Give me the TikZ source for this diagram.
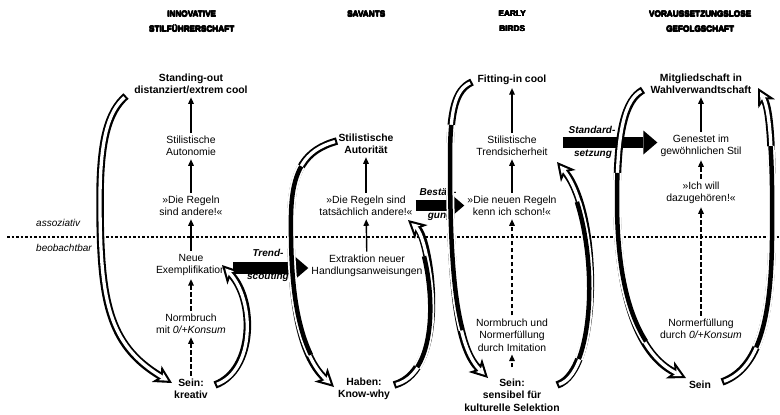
\documentclass[tikz,border=0pt]{standalone}
\usepackage{fontspec}
\setmainfont{Liberation Sans}
\usetikzlibrary{arrows.meta,decorations.pathmorphing}

\newcommand\hvy[1]{\leavevmode\rlap{\kern0.5pt #1}\rlap{\raisebox{0.4pt}{#1}}\rlap{\kern0.5pt\raisebox{0.4pt}{#1}}\rlap{\kern0.25pt\raisebox{0.2pt}{#1}}#1}

\tikzset{
  txt/.style={align=center, font=\fontsize{10.4}{12.5}\selectfont, inner sep=3pt},
  btxt/.style={align=center, font=\fontsize{10.4}{12.5}\selectfont\bfseries, inner sep=3pt},
  hdr/.style={align=center, font=\fontsize{8.2}{15}\selectfont\bfseries, inner sep=0pt},
  lbl/.style={font=\fontsize{10}{12}\selectfont\bfseries\itshape, inner sep=0pt},
  sidetxt/.style={font=\fontsize{10}{12}\selectfont\itshape, anchor=west, inner sep=0pt},
  upar/.style={line width=1.4pt, -{Triangle[length=6.5pt,width=5.5pt]}},
  dupar/.style={upar, dash pattern=on 4.5pt off 2.5pt},
  blockar/.style={line width=11.5pt, -{Triangle[length=14pt,width=24pt,line width=0pt]}},
  hout/.style={line width=7.5pt, -{Stealth[length=18pt,width=19pt,inset=5pt,line width=0pt]}},
  hin/.style={line width=3.3pt, white, shorten <=2.1pt, shorten >=4.5pt,
     -{Stealth[length=8.5pt,width=8.9pt,inset=2.3pt,line width=0pt]}},
  midpart/.style 2 args={decorate, decoration={curveto, pre=moveto, pre length=#1, post=moveto, post length=#2}},
}

\newcommand\pAa{(A1t) .. controls (108,112) and (100,140) .. (100,200) .. controls (100,300) and (108,345) .. (A1h)}
\newcommand\pAb{(A2t) .. controls (255,370) and (255,300) .. (A2h)}
\newcommand\pBa{(B1t) .. controls (305,150) and (292,170) .. (291,215) .. controls (290,300) and (300,355) .. (B1h)}
\newcommand\pBb{(B2t) .. controls (450,370) and (430,240) .. (B2h)}
\newcommand\pCa{(C1t) .. controls (455,90) and (450,110) .. (450,160) .. controls (450,300) and (460,350) .. (C1h)}
\newcommand\pCb{(C2t) .. controls (600,372) and (600,215) .. (C2h)}
\newcommand\pDa{(D1t) .. controls (625,100) and (617,130) .. (617,200) .. controls (617,300) and (640,355) .. (D1h)}
\newcommand\pDb{(D2t) .. controls (755,370) and (771,330) .. (772,240) .. controls (773,150) and (770,110) .. (D2h)}

\begin{document}
\begin{tikzpicture}[x=1pt,y=-1pt]
\useasboundingbox (0,0) rectangle (780,415);

% dotted separator
\coordinate (dl) at (7,237);
\coordinate (dr) at (780,237);
\draw[line width=2.6pt, dash pattern=on 2.6pt off 1.9pt] (dl) -- (dr);

% headers
\node[hdr] (h1) at (191.5,21.5) {\hvy{INNOVATIVE}\\\hvy{STILFÜHRERSCHAFT}};
\node[hdr] (h2) at (366,14) {\hvy{SAVANTS}};
\node[hdr] (h3) at (512,21.5) {\hvy{EARLY}\\\hvy{BIRDS}};
\node[hdr] (h4) at (700,21.5) {\hvy{VORAUSSETZUNGSLOSE}\\\hvy{GEFOLGSCHAFT}};

\node[sidetxt] (as) at (36,223) {assoziativ};
\node[sidetxt] (be) at (36,248) {beobachtbar};

% column 1
\node[btxt] (a1) at (191,84) {Standing-out\\distanziert/extrem cool};
\node[txt] (a2) at (191,146) {Stilistische\\Autonomie};
\node[txt] (a3) at (191,206) {»Die Regeln\\sind andere!«};
\node[txt] (a4) at (191,265) {Neue\\Exemplifikation};
\node[txt] (a5) at (191,324) {Normbruch\\mit \textit{0/+Konsum}};
\node[btxt] (a6) at (191,389) {Sein:\\kreativ};

% column 2
\node[btxt] (b1) at (366,144) {Stilistische\\Autorität};
\node[txt] (b2) at (366,206) {»Die Regeln sind\\tatsächlich andere!«};
\node[txt] (b3) at (367,266) {Extraktion neuer\\Handlungsanweisungen};
\node[btxt] (b4) at (364,389) {Haben:\\Know-why};

% column 3
\node[btxt] (c1) at (512,80) {Fitting-in cool};
\node[txt] (c2) at (512,146) {Stilistische\\Trendsicherheit};
\node[txt] (c3) at (512,206) {»Die neuen Regeln\\kenn ich schon!«};
\node[txt] (c4) at (512,335) {Normbruch und\\Normerfüllung\\durch Imitation};
\node[btxt] (c5) at (512,395) {Sein:\\sensibel für\\kulturelle Selektion};

% column 4
\node[btxt] (d1) at (701,84) {Mitgliedschaft in\\Wahlverwandtschaft};
\node[txt] (d2) at (701,146) {Genestet im\\gewöhnlichen Stil};
\node[txt] (d3) at (701,193) {»Ich will\\dazugehören!«};
\node[txt] (d4) at (701,329) {Normerfüllung\\durch \textit{0/+Konsum}};
\node[btxt] (d5) at (700,385) {Sein};

% thin arrows
\draw[upar] (a2) -- (a1);
\draw[upar] (a3) -- (a2);
\draw[upar] (a4) -- (a3);
\draw[dupar] (a5) -- (a4);
\draw[dupar] (a6) -- (a5);
\draw[upar] (b2) -- (b1);
\draw[upar] (b3) -- (b2);
\draw[upar] (c2) -- (c1);
\draw[upar] (c3) -- (c2);
\draw[dupar] (c4) -- (c3);
\draw[dupar, shorten <=8pt] (c5) -- (c4);
\draw[upar] (d2) -- (d1);
\draw[dupar] (d3) -- (d2);
\draw[dupar] (d4) -- (d3);

% block arrows
\draw[blockar, shorten <=4pt] ([yshift=-3pt]a4.east) -- ([yshift=-2pt]b3.west);
\draw[blockar] ([yshift=0.5pt]b2.east) -- ([yshift=0.5pt]c3.west);
\draw[blockar, shorten <=12pt] ([yshift=3.5pt]c2.east) -- ([yshift=3.5pt]d2.west);
\node[lbl] (t1) at (268,253) {Trend-};
\node[lbl] (t2) at (268,277) {scouting};
\node[lbl] (s1) at (438,192) {Bestäti-};
\node[lbl] (s2) at (440,217) {gung};
\node[lbl] (u1) at (592,130) {Standard-};
\node[lbl] (u2) at (593,154) {setzung};

% curved hollow arrows: end points
\coordinate (A1t) at (126,96);  \coordinate (A1h) at (172,383);
\coordinate (A2t) at (215,385); \coordinate (A2h) at (222,265);
\coordinate (B1t) at (337,141); \coordinate (B1h) at (334,387);
\coordinate (B2t) at (394,385); \coordinate (B2h) at (408,220);
\coordinate (C1t) at (472,82);  \coordinate (C1h) at (488,378);
\coordinate (C2t) at (557,385); \coordinate (C2h) at (557,162);
\coordinate (D1t) at (643,90);  \coordinate (D1h) at (686,378);
\coordinate (D2t) at (722,382); \coordinate (D2h) at (758,88);

\draw[hout] \pAa; \draw[hin] \pAa;
\draw[hout] \pAb; \draw[hin] \pAb;

\draw[hout] \pBa; \draw[hin] \pBa;
\draw[white, line width=8pt, midpart={45pt}{40pt}] \pBa;
\draw[line width=4.5pt, midpart={45pt}{40pt}] \pBa;

\draw[hout] \pBb; \draw[hin] \pBb;
\draw[white, line width=8pt, midpart={30pt}{40pt}] \pBb;
\draw[line width=4.5pt, midpart={30pt}{40pt}] \pBb;

\draw[hout] \pCa; \draw[hin] \pCa;
\draw[white, line width=8pt, midpart={50pt}{55pt}] \pCa;
\draw[line width=4.5pt, midpart={50pt}{55pt}] \pCa;

\draw[hout] \pCb; \draw[hin] \pCb;
\draw[white, line width=8pt, midpart={35pt}{45pt}] \pCb;
\draw[line width=4.5pt, midpart={35pt}{45pt}] \pCb;

\draw[hout] \pDa; \draw[hin] \pDa;
\draw[white, line width=8pt, midpart={90pt}{55pt}] \pDa;
\draw[line width=4.5pt, midpart={90pt}{55pt}] \pDa;

\draw[hout] \pDb; \draw[hin] \pDb;
\draw[white, line width=8pt, midpart={50pt}{60pt}] \pDb;
\draw[line width=4.5pt, midpart={50pt}{60pt}] \pDb;
\end{tikzpicture}
\end{document}
